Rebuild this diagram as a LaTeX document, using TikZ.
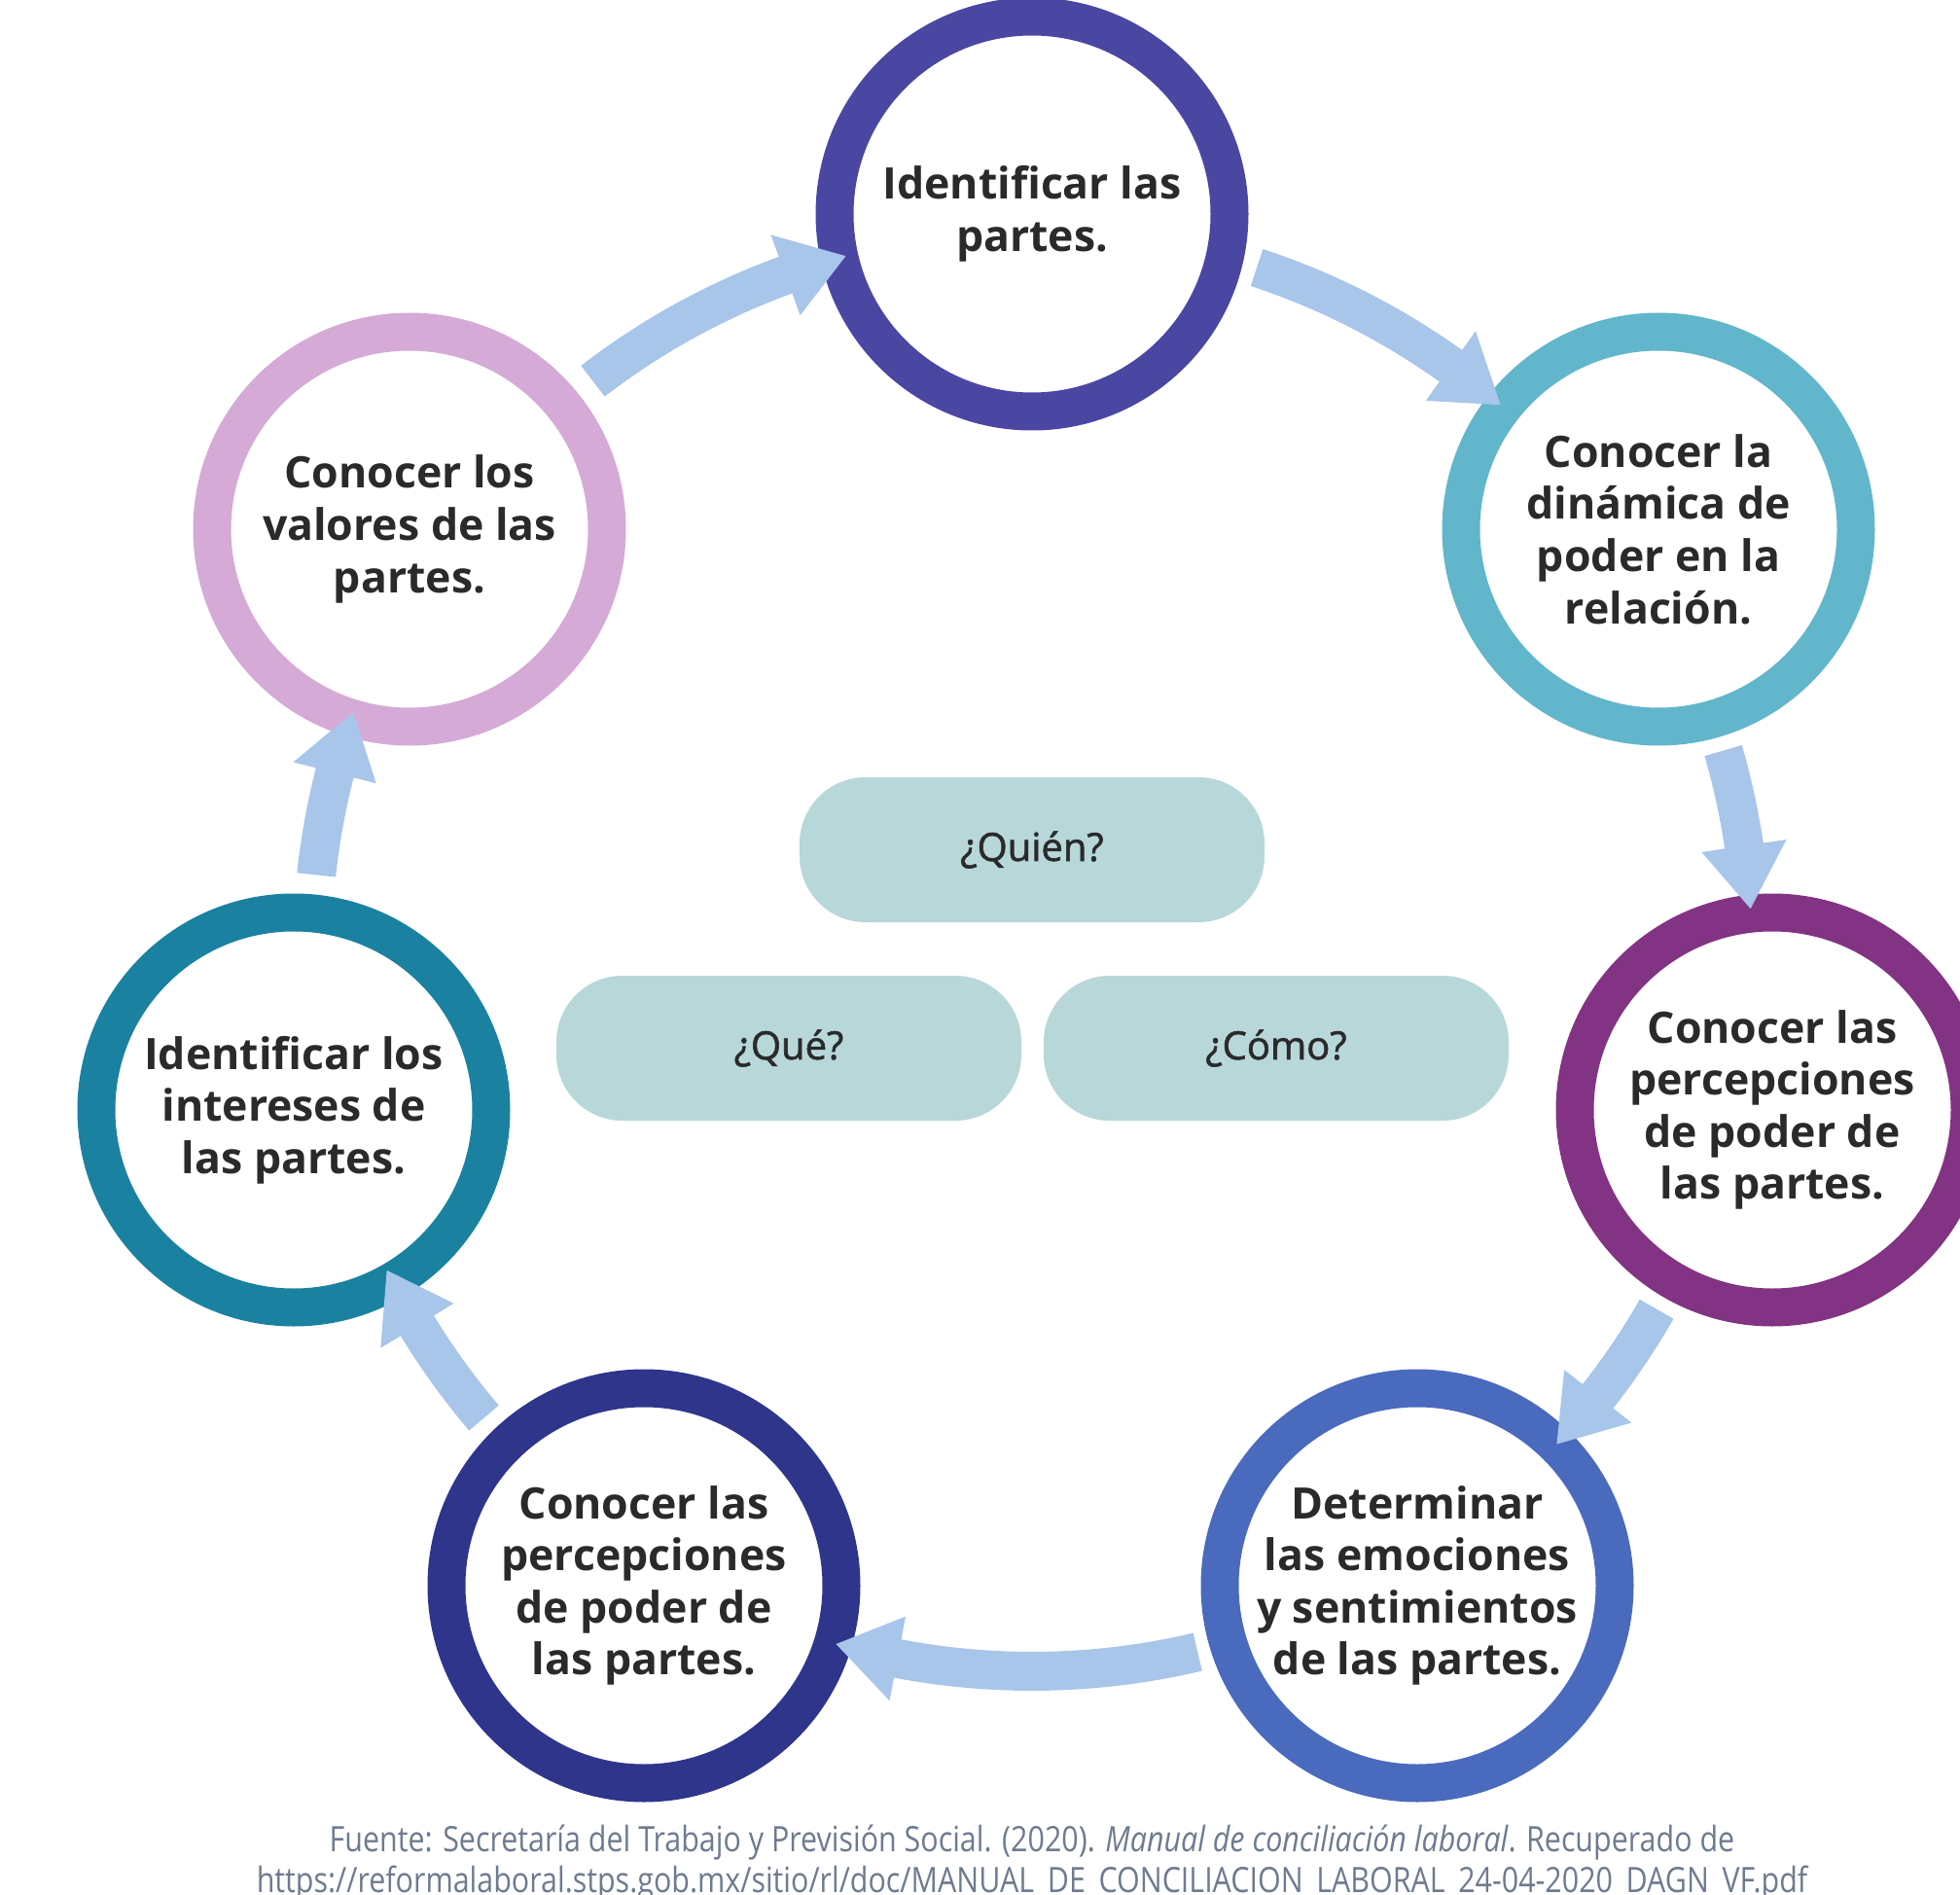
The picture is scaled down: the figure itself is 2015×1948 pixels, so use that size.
\documentclass[tikz,border=0pt]{standalone}
\usepackage{fontspec}
\setmainfont{Open Sans}
\newfontfamily\capfont[FakeStretch=0.845]{Open Sans}
\newfontfamily\pillfont[FakeBold=1.5]{Open Sans}
\definecolor{cA}{HTML}{4A47A3}
\definecolor{cB}{HTML}{62B6CB}
\definecolor{cC}{HTML}{833383}
\definecolor{cD}{HTML}{4A6ABD}
\definecolor{cE}{HTML}{2E358B}
\definecolor{cF}{HTML}{1A82A0}
\definecolor{cG}{HTML}{D5AAD6}
\definecolor{arr}{HTML}{A8C5EA}
\definecolor{pillc}{HTML}{B8D7D9}
\definecolor{txt}{HTML}{2A2A2A}
\definecolor{capc}{HTML}{6E7B8F}
\begin{document}
\begin{tikzpicture}[x=0.5pt,y=0.5pt,
  ring/.style={circle, draw=#1, line width=19.5pt, fill=white, minimum size=203pt, inner sep=0pt, align=center, font=\fontsize{22.3}{26.8}\selectfont\bfseries, text=txt},
  pill/.style={rounded corners=34pt, fill=pillc, minimum width=239pt, minimum height=74.5pt, inner sep=0pt, font=\pillfont\fontsize{20}{24}\selectfont, text=txt},
  flow/.style={fill=arr},
  capt/.style={font=\capfont\fontsize{18}{22}\selectfont, text=capc, anchor=base, inner sep=0pt}]
\useasboundingbox (0,-1948) rectangle (2015,0);
\fill[white] (0,-1948) rectangle (2015,0);
\coordinate (O) at (1061,-978);
\node[ring=cA] (n1) at (1061,-220) {Identificar las\\partes.};
\node[ring=cB] (n2) at (1705,-544) {Conocer la\\dinámica de\\poder en la\\relación.};
\node[ring=cC] (n3) at (1822,-1141) {Conocer las\\percepciones\\de poder de\\las partes.};
\node[ring=cD] (n4) at (1457,-1630) {Determinar\\las emociones\\y sentimientos\\de las partes.};
\node[ring=cE] (n5) at (662,-1630) {Conocer las\\percepciones\\de poder de\\las partes.};
\node[ring=cF] (n6) at (302,-1141) {Identificar los\\intereses de\\las partes.};
\node[ring=cG] (n7) at (421,-544) {Conocer los\\valores de las\\partes.};
\foreach \a/\b in {71.8/49.4, 16.2/3.4, -29.8/-43.2, -76.7/-105.8, 220.4/206.3, 173.9/160.6, 127.6/105}{
  \pgfmathsetmacro\h{\b+5.03}
  \fill[flow] ([shift={(\a:720)}]O) arc[start angle=\a, end angle=\h, radius=720]
     -- ([shift={(\h:696)}]O) -- ([shift={(\b:740)}]O) -- ([shift={(\h:784)}]O)
     -- ([shift={(\h:760)}]O) arc[start angle=\h, end angle=\a, radius=760] -- cycle;
}
\node[pill] (quien) at (1061,-873.5) {¿Quién?};
\node[pill] (que) at (811,-1077.5) {¿Qué?};
\node[pill] (como) at (1312,-1077.5) {¿Cómo?};
\node[capt] (cap1) at (1061,-1903) {Fuente: Secretaría del Trabajo y Previsión Social. (2020). \textit{Manual de conciliación laboral}. Recuperado de};
\node[capt] (cap2) at (1061,-1945) {https://reformalaboral.stps.gob.mx/sitio/rl/doc/MANUAL\_DE\_CONCILIACION\_LABORAL\_24-04-2020\_DAGN\_VF.pdf};
\end{tikzpicture}
\end{document}
